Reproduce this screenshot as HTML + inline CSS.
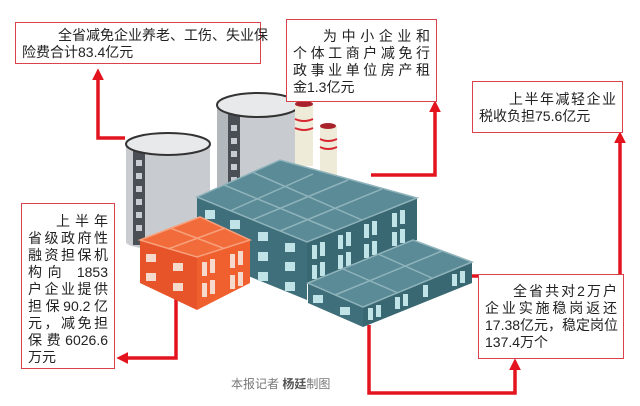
<!DOCTYPE html>
<html><head><meta charset="utf-8"><style>
body{margin:0;background:#fff;}
#c{position:relative;width:640px;height:406px;overflow:hidden;font-family:"Liberation Sans","Noto Sans CJK SC",sans-serif;color:#222;}
.box{position:absolute;border:1.5px solid #d9414b;background:#fff;box-sizing:border-box;font-size:14px;line-height:17px;padding:5px 6px 0 6px;}
.l{text-align:justify;text-align-last:justify;white-space:nowrap;}
.ll{text-align:left;white-space:nowrap;}
svg{position:absolute;left:0;top:0;}
</style></head><body><div id="c">
<svg width="640" height="406" viewBox="0 0 640 406">
<defs><marker id="a" markerWidth="3.4" markerHeight="3.4" refX="1.2" refY="1.7" orient="auto" markerUnits="strokeWidth"><path d="M0,0 L3.4,1.7 L0,3.4z" fill="#e4141e"/></marker></defs>
<g stroke="#e4141e" stroke-width="3.5" fill="none">
<polyline points="125,138 98,138 98,76" marker-end="url(#a)"/>
<polyline points="371,175 435,175 435,108" marker-end="url(#a)"/>
<polyline points="416,276 620,276 620,139" marker-end="url(#a)"/>
<polyline points="176,298 176,358 124,358" marker-end="url(#a)"/>
<polyline points="369,325 369,393 515,393 515,366" marker-end="url(#a)"/>
</g>
<rect x="217" y="105" width="83" height="120" fill="#c8ccd0"/>
<rect x="217" y="105" width="15" height="120" fill="#b3b8bd"/>
<rect x="228" y="110" width="12" height="110" fill="#4a4f55"/>
<g fill="#c8ccd0"><rect x="231" y="125" width="6" height="6"/><rect x="231" y="138" width="6" height="6"/><rect x="231" y="151" width="6" height="6"/><rect x="231" y="164" width="6" height="6"/><rect x="231" y="177" width="6" height="6"/><rect x="231" y="190" width="6" height="6"/></g>
<ellipse cx="258" cy="105" rx="41" ry="12" fill="#e8e9ea" stroke="#333" stroke-width="2"/>
<rect x="126" y="144" width="84" height="98" fill="#c8ccd0"/>
<ellipse cx="168" cy="242" rx="42" ry="8" fill="#c8ccd0"/>
<rect x="133" y="150" width="12" height="95" fill="#4a4f55"/>
<g fill="#c8ccd0"><rect x="136" y="160" width="6" height="6"/><rect x="136" y="173" width="6" height="6"/><rect x="136" y="186" width="6" height="6"/><rect x="136" y="199" width="6" height="6"/><rect x="136" y="212" width="6" height="6"/><rect x="136" y="225" width="6" height="6"/></g>
<ellipse cx="168" cy="144" rx="42" ry="11" fill="#e8e9ea" stroke="#333" stroke-width="2"/>
<rect x="295" y="104" width="18" height="62" fill="#efebd9"/>
<ellipse cx="304" cy="104" rx="9" ry="3" fill="#a8222b"/>
<path d="M295,119 Q304,123 313,119 M295,128 Q304,132 313,128" stroke="#d9252f" stroke-width="2" fill="none"/>
<rect x="320" y="126" width="17" height="50" fill="#efebd9"/>
<ellipse cx="328" cy="126" rx="8" ry="3" fill="#a8222b"/>
<path d="M320,139 Q328,143 337,139 M320,147 Q328,151 337,147" stroke="#d9252f" stroke-width="2" fill="none"/>
<polygon points="197,197 307,242 307,300 197,255" fill="#3f6f7a"/>
<polygon points="307,242 417,198 417,240 307,284" fill="#3a6872"/>
<polygon points="197,197 280,160 417,198 307,242" fill="#5a8b97" stroke="#8fb3bb" stroke-width="1.5"/>
<g stroke="#8fb3bb" stroke-width="1.5">
<line x1="224" y1="185" x2="335" y2="231"/><line x1="252" y1="172" x2="362" y2="220"/>
<line x1="230" y1="211" x2="313" y2="174"/><line x1="252" y1="220" x2="348" y2="180"/><line x1="280" y1="231" x2="382" y2="189"/>
</g>
<g fill="#bfe3e6">
<rect x="205" y="210" width="10" height="9"/><rect x="230" y="220" width="10" height="9"/><rect x="258" y="232" width="10" height="9"/><rect x="285" y="243" width="10" height="9"/>
<rect x="258" y="252" width="10" height="9"/><rect x="285" y="262" width="10" height="9"/><rect x="258" y="272" width="10" height="9"/><rect x="285" y="282" width="10" height="9"/>
<rect x="312" y="245" width="5" height="14"/><rect x="320" y="242" width="5" height="14"/><rect x="338" y="235" width="5" height="14"/><rect x="346" y="232" width="5" height="14"/><rect x="364" y="224" width="5" height="14"/><rect x="372" y="221" width="5" height="14"/><rect x="392" y="213" width="5" height="14"/><rect x="400" y="210" width="5" height="14"/>
<rect x="312" y="265" width="5" height="14"/><rect x="320" y="262" width="5" height="14"/><rect x="338" y="255" width="5" height="14"/><rect x="346" y="252" width="5" height="14"/><rect x="364" y="244" width="5" height="14"/><rect x="372" y="241" width="5" height="14"/><rect x="392" y="232" width="5" height="14"/><rect x="400" y="229" width="5" height="14"/>
</g>
<polygon points="308,283 363,307 363,327 308,303" fill="#3f6f7a"/>
<polygon points="363,307 472,262 472,283 363,327" fill="#3a6872"/>
<polygon points="308,283 413,240 472,262 363,307" fill="#5a8b97" stroke="#8fb3bb" stroke-width="1.5"/>
<g stroke="#8fb3bb" stroke-width="1.5"><line x1="335" y1="295" x2="442" y2="251"/><line x1="343" y1="269" x2="398" y2="293"/><line x1="378" y1="254" x2="432" y2="278"/></g>
<g fill="#bfe3e6"><rect x="313" y="295" width="10" height="8"/><rect x="340" y="307" width="10" height="8"/><rect x="368" y="308" width="5" height="12"/><rect x="376" y="305" width="5" height="12"/><rect x="395" y="297" width="5" height="12"/><rect x="403" y="294" width="5" height="12"/><rect x="423" y="285" width="5" height="12"/><rect x="452" y="274" width="5" height="12"/><rect x="460" y="271" width="5" height="12"/></g>
<polygon points="140,240 197,257 197,310 140,283" fill="#e8542a"/>
<polygon points="197,257 250,240 250,283 197,310" fill="#f0602f"/>
<polygon points="140,240 200,217 250,240 197,257" fill="#f26b3a" stroke="#f7a07c" stroke-width="1.5"/>
<g stroke="#f7a07c" stroke-width="1.5"><line x1="170" y1="228" x2="223" y2="248"/><line x1="168" y1="249" x2="225" y2="228"/></g>
<g fill="#f4d9cc"><rect x="146" y="254" width="10" height="8"/><rect x="173" y="263" width="10" height="8"/><rect x="146" y="273" width="10" height="8"/><rect x="173" y="283" width="10" height="8"/>
<rect x="202" y="262" width="5" height="14"/><rect x="210" y="259" width="5" height="14"/><rect x="230" y="254" width="5" height="14"/><rect x="238" y="251" width="5" height="14"/>
<rect x="202" y="283" width="5" height="14"/><rect x="210" y="280" width="5" height="14"/><rect x="230" y="275" width="5" height="14"/><rect x="238" y="272" width="5" height="14"/></g>
<text x="231" y="388" font-size="12" fill="#777" font-family="Liberation Sans,Noto Sans CJK SC,sans-serif">本报记者 <tspan font-weight="bold" fill="#555">杨廷</tspan>制图</text>
</svg>
<div class="box" style="left:15px;top:22px;width:246px;height:42px;padding-top:4px;">
<div class="l" style="padding-left:36px;">全省减免企业养老、工伤、失业保</div><div class="ll">险费合计83.4亿元</div></div>
<div class="box" style="left:286px;top:19px;width:151px;height:83px;padding-top:8px;">
<div class="l" style="padding-left:30px;">为中小企业和</div><div class="l">个体工商户减免行</div><div class="l">政事业单位房产租</div><div class="ll">金1.3亿元</div></div>
<div class="box" style="left:472px;top:81px;width:151px;height:52px;padding-top:9px;">
<div class="l" style="padding-left:30px;">上半年减轻企业</div><div class="ll">税收负担75.6亿元</div></div>
<div class="box" style="left:21px;top:203px;width:94px;height:166px;padding-top:9px;">
<div class="l" style="padding-left:28px;">上半年</div><div class="l">省级政府性</div><div class="l">融资担保机</div><div class="l">构向 1853</div><div class="l">户企业提供</div><div class="l">担保90.2亿</div><div class="l">元，减免担</div><div class="l">保费6026.6</div><div class="ll">万元</div></div>
<div class="box" style="left:478px;top:274px;width:146px;height:85px;padding-top:8px;">
<div class="l" style="padding-left:28px;">全省共对2万户</div><div class="l">企业实施稳岗返还</div><div class="l">17.38亿元，稳定岗位</div><div class="ll">137.4万个</div></div>
</div></body></html>
